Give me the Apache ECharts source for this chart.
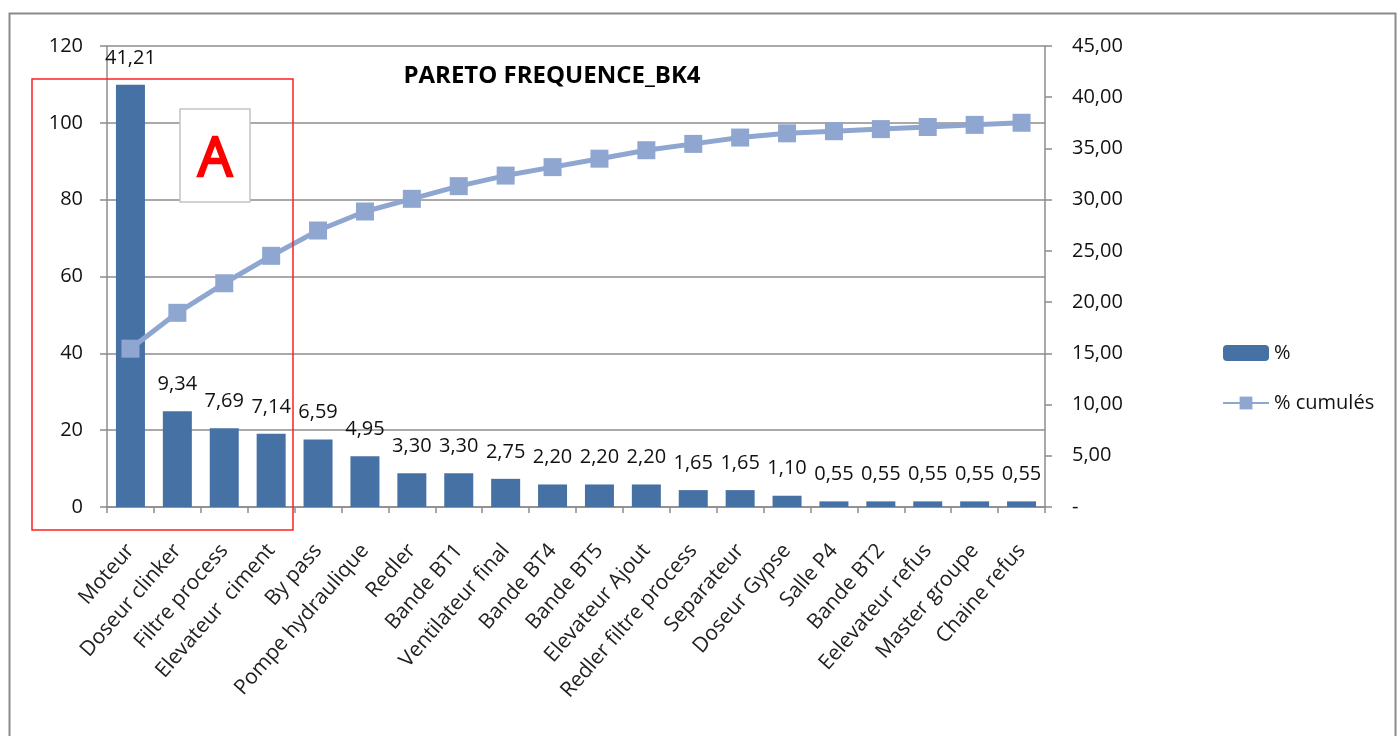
<!DOCTYPE html>
<html>
<head>
<meta charset="utf-8">
<script src="https://cdn.jsdelivr.net/npm/echarts@6/dist/echarts.min.js"></script>
<style>
html,body{margin:0;padding:0;background:#fff;}
#c{width:1399px;height:736px;}
</style>
</head>
<body>
<div id="c"></div>
<script>
const categories = ['Moteur','Doseur clinker','Filtre process','Elevateur  ciment','By pass','Pompe hydraulique','Redler','Bande BT1','Ventilateur final','Bande BT4','Bande BT5','Elevateur Ajout','Redler filtre process','Separateur','Doseur Gypse','Salle P4','Bande BT2','Eelevateur refus','Master groupe','Chaine refus'];
const pct = [41.21,9.34,7.69,7.14,6.59,4.95,3.30,3.30,2.75,2.20,2.20,2.20,1.65,1.65,1.10,0.55,0.55,0.55,0.55,0.55];
const pctCum = [41.21,50.55,58.24,65.38,71.97,76.92,80.22,83.52,86.27,88.47,90.67,92.87,94.52,96.17,97.27,97.82,98.37,98.92,99.47,100.02];
const title = 'PARETO FREQUENCE_BK4';

const FONT = 'Open Sans';
const fmt2 = v => v.toFixed(2).replace('.', ',');
const chart = echarts.init(document.getElementById('c'));
chart.setOption({
  animation: false,
  backgroundColor: '#ffffff',
  textStyle: { fontFamily: FONT },
  title: {
    text: title, left: 547, top: 59, textAlign: 'center',
    textStyle: { fontFamily: FONT, fontSize: 24, fontWeight: 'bold', color: '#000' }
  },
  legend: {
    orient: 'vertical', left: 1217, top: 338,
    itemWidth: 46, itemHeight: 16, itemGap: 30,
    textStyle: { fontFamily: FONT, fontSize: 20, color: '#111' },
    data: ['%', '% cumulés']
  },
  grid: { left: 107, right: 354, top: 46, bottom: 229, containLabel: false },
  xAxis: {
    type: 'category', data: categories,
    axisLine: { lineStyle: { color: '#8c8c8c', width: 1.5 } },
    axisTick: { show: true, alignWithLabel: false, interval: 0, length: 6, lineStyle: { color: '#8c8c8c', width: 1.5 } },
    axisLabel: { interval: 0, rotate: 49, margin: 40, fontFamily: FONT, fontSize: 21, color: '#222' }
  },
  yAxis: [
    {
      type: 'value', min: 0, max: 120, interval: 20, position: 'left',
      axisLine: { show: true, lineStyle: { color: '#8c8c8c', width: 1.5 } },
      axisTick: { show: true, length: 7, lineStyle: { color: '#8c8c8c', width: 1.5 } },
      axisLabel: { margin: 24, fontFamily: FONT, fontSize: 20, color: '#111' },
      splitLine: { show: true, lineStyle: { color: '#8c8c8c', width: 1.5 } }
    },
    {
      type: 'value', min: 0, max: 45, interval: 5, position: 'right',
      axisLine: { show: true, lineStyle: { color: '#8c8c8c', width: 1.5 } },
      axisTick: { show: true, length: 7, lineStyle: { color: '#8c8c8c', width: 1.5 } },
      axisLabel: { margin: 27, fontFamily: FONT, fontSize: 20, color: '#111',
        formatter: v => v === 0 ? '-' : fmt2(v) },
      splitLine: { show: false }
    }
  ],
  series: [
    {
      name: '%', type: 'bar', yAxisIndex: 1, data: pct, barWidth: 29,
      itemStyle: { color: '#4671A5' },
      label: { show: true, position: 'top', distance: 17, fontFamily: FONT, fontSize: 20, color: '#111',
        formatter: p => fmt2(p.value) },
      z: 2
    },
    {
      name: '% cumulés', type: 'line', yAxisIndex: 0, data: pctCum,
      symbol: 'rect', symbolSize: 18,
      lineStyle: { color: '#8FA6D0', width: 5 },
      itemStyle: { color: '#8FA6D0' },
      z: 3
    }
  ],
  graphic: [
    { type: 'rect', left: 7, top: 11, shape: { x: 0, y: 0, width: 1386, height: 740 },
      style: { fill: 'none', stroke: '#8a8a8a', lineWidth: 2 }, silent: true, z: 0 },
    { type: 'rect', shape: { x: 32, y: 79, width: 261, height: 451 },
      style: { fill: 'none', stroke: '#ff2020', lineWidth: 1.5 }, silent: true, z: 10 },
    { type: 'rect', shape: { x: 180, y: 109, width: 70, height: 93 },
      style: { fill: '#ffffff', stroke: '#c4c4c4', lineWidth: 1.5 }, silent: true, z: 10 },
    { type: 'text', x: 215, y: 161, z: 11, silent: true,
      style: { text: 'A', fill: '#ff0000', stroke: '#ff0000', lineWidth: 2.5, fontFamily: 'Open Sans', fontSize: 54,
        align: 'center', verticalAlign: 'middle' } }
  ]
});
</script>
</body>
</html>
